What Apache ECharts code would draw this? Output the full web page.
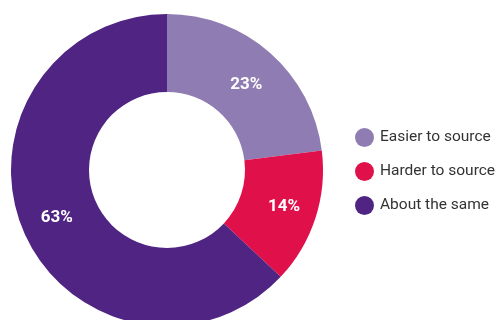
<!DOCTYPE html>
<html>
<head>
<meta charset="utf-8">
<style>
  html, body { margin: 0; padding: 0; background: #ffffff; }
  #chart { width: 499px; height: 320px; }
</style>
<script src="https://cdn.jsdelivr.net/npm/echarts@6/dist/echarts.min.js"></script>
</head>
<body>
<div id="chart"></div>
<script>
// Sourcing difficulty responses (percent)
const categories = ['Easier to source', 'Harder to source', 'About the same'];
const values = [23, 14, 63];
const colors = ['#8f7cb3', '#e0104b', '#4f2482'];

const FONT = 'Roboto, "Noto Sans", sans-serif';

const chart = echarts.init(document.getElementById('chart'), null, { renderer: 'canvas' });

chart.setOption({
  animation: false,
  backgroundColor: '#ffffff',
  color: colors,
  legend: {
    orient: 'vertical',
    left: 350,
    top: 123,
    icon: 'circle',
    itemWidth: 19,
    itemHeight: 19,
    itemGap: 15,
    textStyle: { fontFamily: FONT, fontSize: 15.5, color: '#333333', padding: [0, 0, 0, 1] },
    data: categories
  },
  series: [{
    type: 'pie',
    center: [167, 170],
    radius: [78, 156],
    startAngle: 90,
    clockwise: true,
    avoidLabelOverlap: false,
    label: {
      show: true,
      position: 'inside',
      formatter: '{c}%',
      color: '#ffffff',
      fontFamily: FONT,
      fontWeight: 'bold',
      fontSize: 17
    },
    labelLine: { show: false },
    itemStyle: { borderWidth: 0 },
    emphasis: { disabled: true },
    data: categories.map((name, i) => ({
      name,
      value: values[i],
      label: i === 0 ? { offset: [0, 5] } : i === 1 ? { offset: [3, 0] } : {}
    }))
  }]
});
</script>
</body>
</html>
